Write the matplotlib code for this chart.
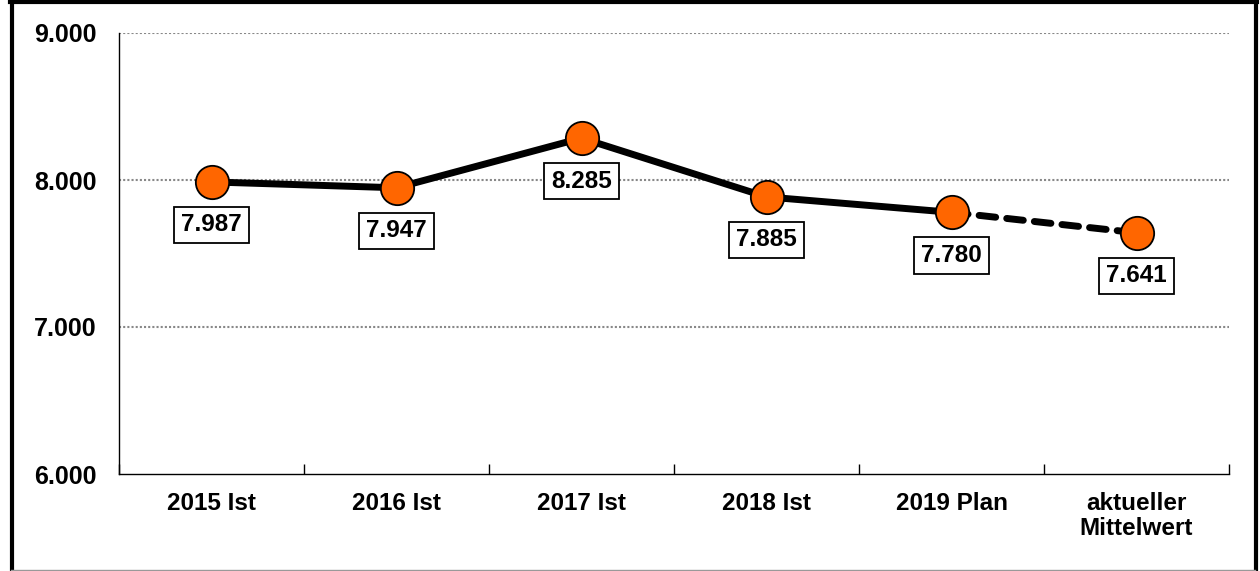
import matplotlib.pyplot as plt

# data
categories = ['2015 Ist', '2016 Ist', '2017 Ist', '2018 Ist', '2019 Plan', 'aktueller\nMittelwert']
values = [7987, 7947, 8285, 7885, 7780, 7641]
value_labels = ['7.987', '7.947', '8.285', '7.885', '7.780', '7.641']
y_ticks = [6000, 7000, 8000, 9000]
y_tick_labels = ['6.000', '7.000', '8.000', '9.000']

plt.rcParams['font.family'] = ['Liberation Sans', 'DejaVu Sans']
plt.rcParams['font.weight'] = 'bold'

fig = plt.figure(figsize=(12.6, 5.71), dpi=100)
ax = fig.add_axes([119 / 1260, 1 - 474 / 571, 1110 / 1260, 441 / 571])

x = list(range(len(categories)))
# solid line for actual/plan, dashed to the current average
ax.plot(x[:5], values[:5], color='black', lw=5, solid_capstyle='round', zorder=3)
ax.plot(x[4:], values[4:], color='black', lw=5, ls=(0, (2.4, 1.6)), dash_capstyle='round', zorder=3)
ax.plot(x, values, ls='none', marker='o', ms=24, mfc='#FF6600', mec='black', mew=1.3, zorder=4)

for xi, v, lab in zip(x, values, value_labels):
    ax.annotate(lab, (xi, v), xytext=(0, -31), textcoords='offset points',
                ha='center', va='center', fontsize=17.5, fontweight='bold',
                bbox=dict(boxstyle='square,pad=0.28', fc='white', ec='black', lw=1.3), zorder=5)

ax.set_xlim(-0.5, 5.5)
ax.set_ylim(6000, 9000)
ax.set_yticks(y_ticks)
ax.set_yticklabels(y_tick_labels, fontsize=18, fontweight='bold')
ax.tick_params(axis='y', length=0, pad=16)

ax.set_xticks(x)
ax.set_xticklabels(categories, fontsize=17.5, fontweight='bold', linespacing=1.1)
ax.tick_params(axis='x', length=0, pad=13)
ax.set_xticks([i + 0.5 for i in range(-1, 6)], minor=True)
ax.tick_params(axis='x', which='minor', direction='in', length=7, width=1)

for yv in [7000, 8000, 9000]:
    ax.axhline(yv, color='#888888', lw=1.5, ls=(0, (1, 1)), zorder=1)

ax.spines['top'].set_visible(False)
ax.spines['right'].set_visible(False)
ax.spines['left'].set_linewidth(1)
ax.spines['bottom'].set_linewidth(1)

# outer frame: black left/top/right, thin grey bottom
W, H = 1260, 571
frame = [
    ([11.5 / W, 11.5 / W], [0, 1], 'black', 3),
    ([10 / W, 1257 / W], [1 - 1.5 / H, 1 - 1.5 / H], 'black', 3),
    ([1255.5 / W, 1255.5 / W], [0, 1], 'black', 3),
    ([11 / W, 1255 / W], [1.5 / H, 1.5 / H], '#999999', 1),
]
for xs, ys, c, w in frame:
    fig.lines.append(plt.Line2D(xs, ys, transform=fig.transFigure, color=c, lw=w))

fig.savefig('out.png', dpi=100)
